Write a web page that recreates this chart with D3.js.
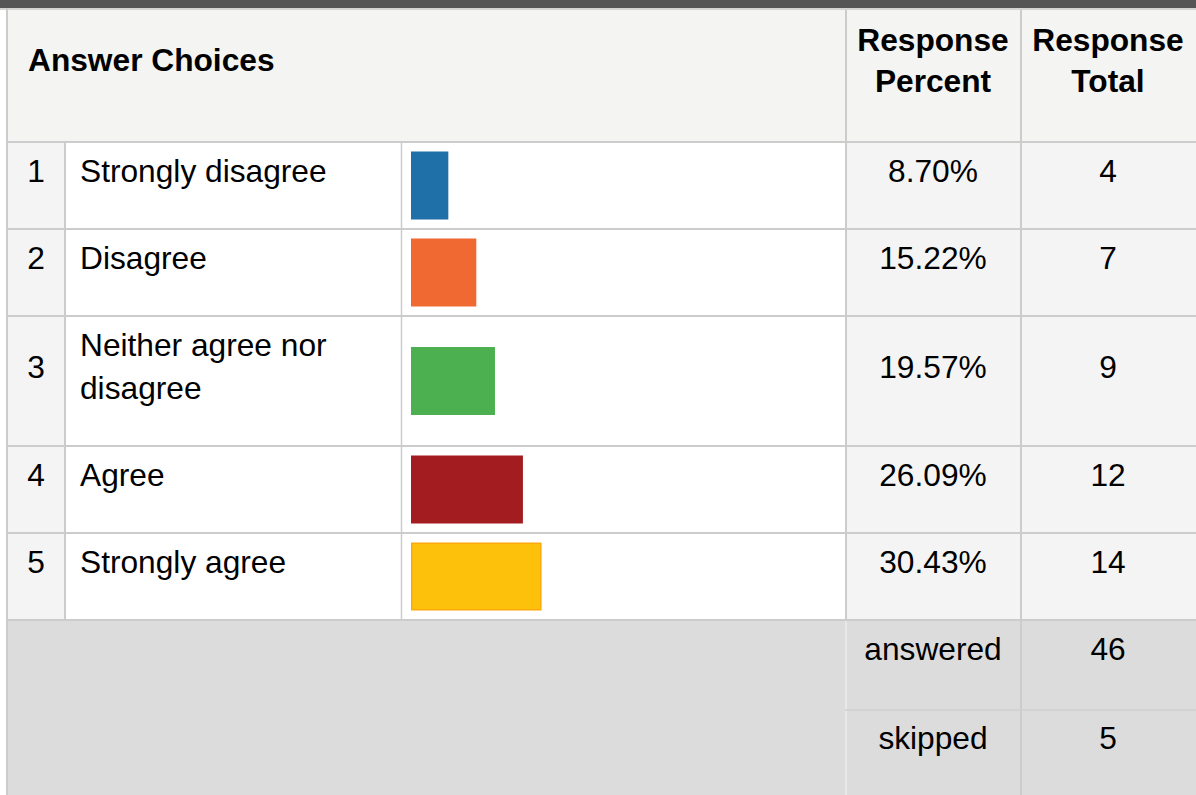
<!DOCTYPE html>
<html>
<head>
<meta charset="utf-8">
<title>Answer Choices</title>
<script src="https://d3js.org/d3.v7.min.js"></script>
<style>
body{
	margin: 0;
	background: #fff;
	font-family: "Liberation Sans", Arial, sans-serif;
}
</style>
</head>
<body>
<div id="my_table"></div>
<script>

var choices = [["Strongly disagree"], ["Disagree"], ["Neither agree nor", "disagree"], ["Agree"], ["Strongly agree"]];
var percents = [8.70, 15.22, 19.57, 26.09, 30.43];
var totals = [4, 7, 9, 12, 14];
var colors = ["#1f6fa8", "#f06832", "#4caf50", "#a31c20", "#fec10b"];
var answered = 46;
var skipped = 5;

var width = 1196, height = 795;
var fontSize = 31.7;
var lineColor = "#cccccc";

// column edges
var colX = {left: 8, num: 64, text: 66, bar: 402, pct: 845, tot: 1020, right: 1196};
var headerTop = 10, headerBottom = 141;
var rowPitch = 87, extraLine = 43;

var svg = d3.select("#my_table")
	.append("svg")
	.attr("width", width)
	.attr("height", height)
	.attr("font-family", "'Liberation Sans', Arial, sans-serif")
	.attr("font-size", fontSize);

// row tops (position of the separator line above each row)
var rows = [];
var y = headerBottom;
choices.forEach(function(c, i) {
	var h = rowPitch + (c.length - 1) * extraLine;
	rows.push({i: i, top: y, h: h, lines: c});
	y += h;
});
var footerTop = y;
var footerMid = 710;

// bar scale
var x = d3.scaleLinear()
	.domain([0, 100])
	.range([0, 429]);

// top dark band + header
svg.append("rect").attr("x", 0).attr("y", 0).attr("width", width).attr("height", 8).attr("fill", "#555555");
svg.append("rect").attr("x", 0).attr("y", 8).attr("width", width).attr("height", 2).attr("fill", "#d4d4d4");
svg.append("rect").attr("x", colX.left).attr("y", headerTop).attr("width", width - colX.left).attr("height", headerBottom - headerTop).attr("fill", "#f4f4f3");

// body rows
var row = svg.append("g").selectAll("g")
	.data(rows)
	.join("g")
	.attr("transform", d => `translate(0,${d.top})`);

row.append("rect").attr("x", colX.left).attr("width", colX.num - colX.left).attr("height", d => d.h).attr("fill", "#f4f4f4");
row.append("rect").attr("x", colX.text).attr("width", colX.pct - colX.text).attr("height", d => d.h).attr("fill", "#ffffff");
row.append("rect").attr("x", colX.pct).attr("width", colX.right - colX.pct).attr("height", d => d.h).attr("fill", "#f4f4f4");

// bars
row.append("rect")
	.attr("x", d => d.i == 4 ? 411.75 : 411)
	.attr("y", d => d.h / 2 - 34 + 1 + (d.i == 4 ? 0.75 : 0))
	.attr("width", d => x(percents[d.i]) - (d.i == 4 ? 1.5 : 0))
	.attr("height", d => d.i == 4 ? 66.5 : 68)
	.attr("fill", d => colors[d.i])
	.attr("stroke", d => d.i == 4 ? "#fca90b" : "none")
	.attr("stroke-width", 1.5);

// texts
var midBase = d => 41 + (d.lines.length - 1) * 21.5;
row.append("text")
	.attr("x", 36).attr("y", midBase)
	.attr("text-anchor", "middle")
	.text(d => d.i + 1);

row.append("text")
	.attr("x", 80)
	.selectAll("tspan")
	.data(d => d.lines)
	.join("tspan")
	.attr("x", 80)
	.attr("y", (d, j) => 41 + j * 42.5)
	.text(d => d);

row.append("text")
	.attr("x", 933).attr("y", midBase)
	.attr("text-anchor", "middle")
	.text(d => percents[d.i].toFixed(2) + "%");

row.append("text")
	.attr("x", 1108).attr("y", midBase)
	.attr("text-anchor", "middle")
	.text(d => totals[d.i]);

// footer
svg.append("rect").attr("x", colX.left).attr("y", footerTop).attr("width", width - colX.left).attr("height", height - footerTop).attr("fill", "#dcdcdc");

var footer = [{label: "answered", value: answered, top: footerTop + 2}, {label: "skipped", value: skipped, top: footerMid}];
svg.append("g").selectAll("text")
	.data(footer)
	.join("text")
	.attr("x", 933).attr("y", d => d.top + 39)
	.attr("text-anchor", "middle")
	.text(d => d.label);
svg.append("g").selectAll("text")
	.data(footer)
	.join("text")
	.attr("x", 1108).attr("y", d => d.top + 39)
	.attr("text-anchor", "middle")
	.text(d => d.value);

// header texts
var header = svg.append("g").attr("font-weight", "bold");
header.append("text").attr("x", 28).attr("y", 71).text("Answer Choices");
[["Response", "Percent", 933], ["Response", "Total", 1108]].forEach(function(h) {
	var t = header.append("text").attr("text-anchor", "middle");
	t.append("tspan").attr("x", h[2]).attr("y", 51).text(h[0]);
	t.append("tspan").attr("x", h[2]).attr("y", 92).text(h[1]);
});

// grid lines
var grid = svg.append("g").attr("stroke", lineColor);
grid.append("line").attr("x1", 7).attr("x2", 7).attr("y1", 8).attr("y2", height).attr("stroke-width", 2);
grid.selectAll("line.h")
	.data(rows.map(d => d.top).concat([footerTop]))
	.join("line")
	.attr("class", "h")
	.attr("x1", colX.left).attr("x2", width)
	.attr("y1", d => d + 1).attr("y2", d => d + 1)
	.attr("stroke-width", 2);
// column lines inside the body
grid.append("line").attr("x1", 65).attr("x2", 65).attr("y1", headerBottom + 2).attr("y2", footerTop).attr("stroke-width", 2);
grid.append("line").attr("x1", 401.5).attr("x2", 401.5).attr("y1", headerBottom + 2).attr("y2", footerTop).attr("stroke-width", 1.5);
grid.append("line").attr("x1", 846).attr("x2", 846).attr("y1", headerTop).attr("y2", footerTop).attr("stroke-width", 2);
grid.append("line").attr("x1", 1021).attr("x2", 1021).attr("y1", headerTop).attr("y2", height).attr("stroke-width", 2);
// footer lines
grid.append("line").attr("x1", 846).attr("x2", 846).attr("y1", footerTop + 2).attr("y2", height).attr("stroke", "#ececec").attr("stroke-width", 1.5);
grid.append("line").attr("x1", colX.pct).attr("x2", width).attr("y1", footerMid).attr("y2", footerMid).attr("stroke", "#cfcfcf").attr("stroke-width", 1.5);

</script>
</body>
</html>
